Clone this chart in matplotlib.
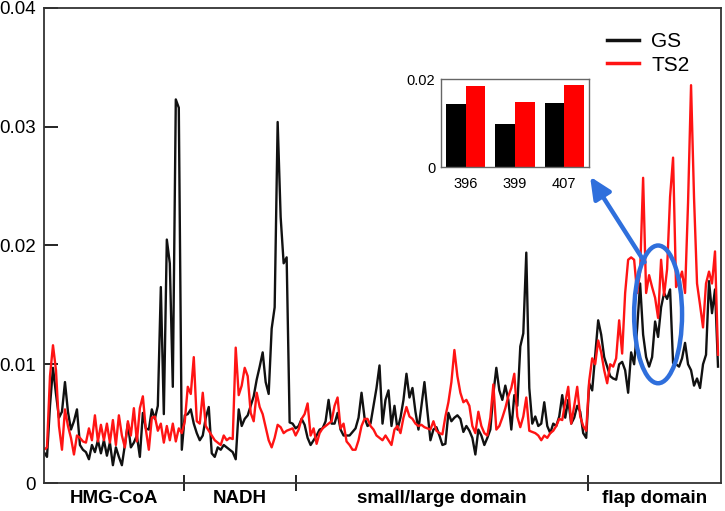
import numpy as np
import matplotlib
matplotlib.use("Agg")
import matplotlib.pyplot as plt
from matplotlib.patches import Ellipse

plt.rcParams['font.family'] = ['Liberation Sans', 'DejaVu Sans']

# fluctuation per position (units of 1e-3)
gs = [2.6, 2.2, 6.5, 9.7, 7.5, 5.5, 6.0, 8.5, 6.0, 4.5,
      5.2, 6.2, 3.2, 2.8, 2.6, 2.0, 3.2, 2.6, 3.6, 2.5,
      3.6, 2.3, 3.4, 1.5, 3.0, 2.2, 1.5, 3.2, 5.0, 3.0,
      3.4, 4.0, 2.2, 5.9, 4.6, 4.5, 6.2, 5.4, 6.5, 16.5,
      5.8, 20.5, 18.5, 8.1, 32.3, 31.6, 2.8, 5.7, 5.8, 6.2,
      5.0, 4.2, 3.6, 4.0, 5.5, 6.4, 2.5, 2.2, 3.0, 2.8,
      3.2, 3.0, 2.8, 2.6, 2.0, 6.2, 4.8, 5.4, 5.7, 6.5,
      7.3, 8.7, 9.8, 11.0, 8.5, 7.5, 13.0, 14.8, 30.4, 22.4,
      18.5, 19.0, 5.1, 5.0, 4.6, 4.8, 5.4, 4.9, 3.8, 3.2,
      3.6, 4.0, 4.5, 4.6, 5.2, 7.0, 5.0, 5.0, 5.9, 4.5,
      4.0, 4.0, 4.0, 4.3, 4.6, 5.5, 7.6, 5.5, 4.8, 5.0,
      6.5, 8.0, 9.9, 5.0, 7.0, 7.8, 4.8, 6.5, 4.5, 5.5,
      7.0, 9.2, 7.2, 8.0, 6.0, 4.5, 6.5, 8.5, 6.0, 3.6,
      4.5, 4.7, 4.0, 3.2, 3.3, 5.9, 5.2, 5.5, 5.7, 5.4,
      4.3, 4.8, 4.4, 3.8, 2.4, 4.5, 4.0, 3.2, 3.8, 4.5,
      7.5, 9.7, 7.8, 7.0, 8.2, 7.0, 4.5, 7.4, 6.5, 11.5,
      12.6, 19.4, 8.0, 5.0, 5.6, 4.8, 5.0, 6.8, 4.8, 4.2,
      5.0, 4.8, 5.6, 7.4, 5.5, 7.0, 5.0, 5.5, 6.5, 6.0,
      4.2, 3.8, 8.4, 7.8, 10.8, 13.7, 12.5, 10.6, 9.8, 9.0,
      8.8, 8.7, 10.0, 10.2, 9.5, 7.6, 11.0, 10.0, 13.0, 16.8,
      12.5, 10.6, 9.8, 10.6, 13.6, 12.3, 14.8, 16.0, 15.5, 16.3,
      10.1, 10.0, 9.8, 10.5, 11.8, 10.0, 9.5, 8.2, 8.8, 8.0,
      10.0, 10.8, 17.0, 14.3, 16.3, 9.8]

ts2 = [2.8, 3.0, 9.0, 11.6, 9.5, 4.8, 2.8, 6.2, 4.8, 3.8,
       2.4, 4.0, 3.8, 3.5, 3.4, 4.6, 3.6, 5.7, 3.5, 4.9,
       3.6, 5.0, 3.4, 5.3, 3.2, 5.7, 4.0, 3.0, 5.2, 4.0,
       6.3, 3.5, 6.3, 7.3, 4.5, 2.8, 5.5, 5.6, 4.4, 5.0,
       3.4, 4.8, 3.6, 5.0, 3.5, 4.6, 4.2, 5.2, 8.1, 7.5,
       10.6, 5.2, 5.0, 7.6, 4.8, 4.4, 4.0, 3.6, 3.4, 3.2,
       4.0, 3.6, 3.8, 3.7, 11.4, 7.4, 8.2, 9.7, 9.0, 5.9,
       5.2, 7.6, 6.4, 5.8, 4.7, 3.6, 3.0, 3.8, 4.9, 4.7,
       4.2, 4.4, 4.5, 4.6, 4.0, 4.5, 5.4, 5.8, 6.7, 4.0,
       4.6, 3.3, 4.2, 4.6, 4.8, 5.0, 5.2, 6.5, 7.2, 4.6,
       5.0, 3.5, 3.2, 2.8, 2.8, 3.6, 4.8, 5.4, 5.4, 4.8,
       4.5, 4.0, 3.8, 3.6, 4.0, 3.6, 3.2, 4.5, 4.8, 4.2,
       5.5, 6.4, 5.6, 5.4, 5.0, 4.8, 4.9, 4.7, 4.6, 4.5,
       5.2, 4.4, 4.2, 4.1, 5.6, 6.8, 8.5, 11.2, 9.0, 7.6,
       6.8, 7.0, 6.5, 4.8, 4.2, 6.0, 4.8, 4.2, 4.0, 5.5,
       8.3, 4.5, 4.8, 5.5, 6.3, 7.3, 8.0, 9.2, 5.6, 4.7,
       5.6, 7.2, 4.4, 4.3, 4.2, 4.0, 3.6, 4.0, 3.8, 4.2,
       4.4, 4.8, 5.4, 5.3, 6.8, 8.1, 5.0, 6.5, 8.1, 5.6,
       4.8, 4.4, 8.6, 10.5, 10.0, 12.0, 11.0, 9.5, 8.4, 10.0,
       9.8, 10.5, 13.7, 10.9, 16.0, 18.8, 19.0, 18.8, 16.0, 17.8,
       25.7, 16.0, 17.5, 16.5, 15.6, 13.9, 18.8, 15.8, 18.0, 24.1,
       27.4, 16.5, 17.0, 17.8, 16.0, 23.6, 33.5, 24.0, 16.8, 15.0,
       13.1, 16.8, 17.8, 16.8, 19.5, 10.8]

regions = ["HMG-CoA", "NADH", "small/large domain", "flap domain"]
region_edges = [0, 46.7, 84, 181.7, 226]

# inset bars
residues = ["396", "399", "407"]
gs_bar = [0.0143, 0.0098, 0.0145]
ts2_bar = [0.0184, 0.0148, 0.0186]

gs = np.array(gs) * 1e-3
ts2 = np.array(ts2) * 1e-3
x = np.arange(len(gs))

fig = plt.figure(figsize=(7.25, 5.11), dpi=100)
ax = fig.add_axes([44/725, 28/511, 677/725, 475/511])

ax.plot(x, gs, color='#111111', lw=1.7, label='GS')
ax.plot(x, ts2, color='#ff1414', lw=1.7, label='TS2')

ax.set_xlim(region_edges[0], region_edges[-1])
ax.set_ylim(0, 0.04)
ax.set_yticks([0, 0.01, 0.02, 0.03, 0.04])
ax.set_yticklabels(['0', '0.01', '0.02', '0.03', '0.04'], fontsize=13.5)
ax.tick_params(axis='y', direction='in', length=10, width=1.2, pad=6)
ax.set_xticks(region_edges[1:-1])
ax.set_xticklabels([])
ax.tick_params(axis='x', direction='inout', length=12, width=1.2)
for s in ax.spines.values():
    s.set_color('#333333')
    s.set_linewidth(1.3)

for i, name in enumerate(regions):
    mid = (region_edges[i] + region_edges[i + 1]) / 2
    ax.text(mid, -0.032, name, transform=ax.get_xaxis_transform(),
            ha='center', va='center', fontsize=13.5, fontweight='bold')

leg = ax.legend(loc='upper left', bbox_to_anchor=(597/725, 1 - 22/511),
                bbox_transform=fig.transFigure, frameon=False, fontsize=15,
                handlelength=1.5, handletextpad=0.6, borderpad=0,
                labelspacing=0.2)
for ln in leg.get_lines():
    ln.set_linewidth(2.5)

# highlighted region and arrow to inset
blue = '#2f6fdc'
ax.add_patch(Ellipse((205, 0.0142), 16, 0.0116, fill=False,
                     edgecolor=blue, lw=3.2, zorder=5))
ax.annotate('', xy=(182.3, 0.0258), xytext=(200.5, 0.0186),
            arrowprops=dict(arrowstyle='-|>,head_length=1.3,head_width=0.6',
                            color=blue, lw=3.2, shrinkA=0, shrinkB=0),
            zorder=5)

# inset bar chart
ins = fig.add_axes([441/725, 1 - 167/511, 148/725, 88/511])
pos = np.arange(len(residues))
ins.bar(pos - 0.2, gs_bar, width=0.4, color='black')
ins.bar(pos + 0.2, ts2_bar, width=0.4, color='#ff0000')
ins.set_xlim(-0.5, 2.5)
ins.set_ylim(0, 0.02)
ins.set_yticks([0, 0.02])
ins.set_yticklabels(['0', '0.02'], fontsize=10.5)
ins.set_xticks(pos)
ins.set_xticklabels(residues, fontsize=10.5)
ins.tick_params(length=0, pad=4)
ins.tick_params(axis='x', pad=7)
for s in ins.spines.values():
    s.set_color('#666666')
    s.set_linewidth(1.0)

fig.savefig('out.png', dpi=100)
